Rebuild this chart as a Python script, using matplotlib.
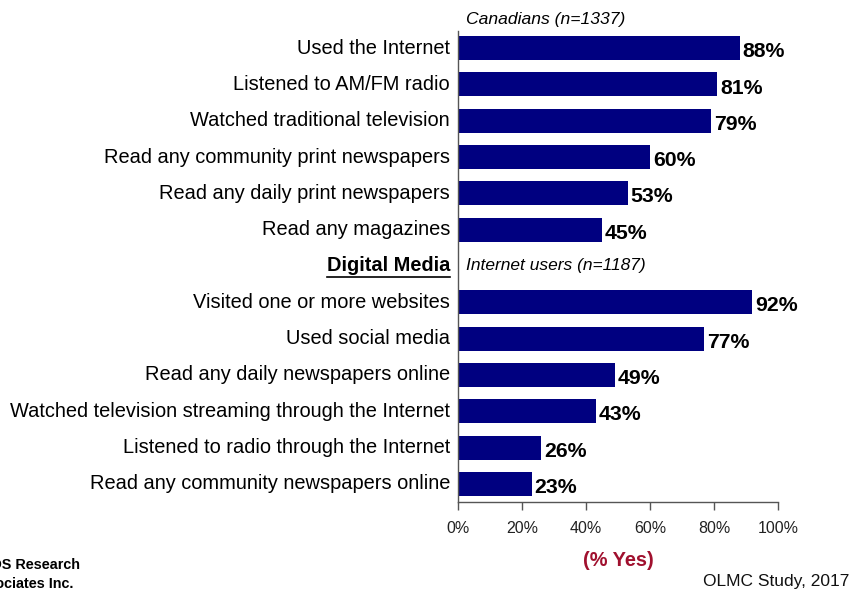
import matplotlib.pyplot as plt
from matplotlib.lines import Line2D

plt.rcParams['font.family'] = ['Liberation Sans', 'DejaVu Sans']

# media use, in row order (None = section header row)
labels = [
    "Used the Internet",
    "Listened to AM/FM radio",
    "Watched traditional television",
    "Read any community print newspapers",
    "Read any daily print newspapers",
    "Read any magazines",
    "Digital Media",
    "Visited one or more websites",
    "Used social media",
    "Read any daily newspapers online",
    "Watched television streaming through the Internet",
    "Listened to radio through the Internet",
    "Read any community newspapers online",
]
values = [88, 81, 79, 60, 53, 45, None, 92, 77, 49, 43, 26, 23]
xticks = [0, 20, 40, 60, 80, 100]
header_row = 6

BAR_COLOR = '#000080'

fig = plt.figure(figsize=(8.51, 5.96), dpi=100)
ax = fig.add_axes([0.5382, 0.1577, 0.376, 0.7903])

rows = list(range(len(labels)))
for r, v in zip(rows, values):
    if v is None:
        continue
    ax.barh(r, v, height=0.66, color=BAR_COLOR)
    ax.text(v + 0.9, r + 0.1, f"{v}%", va='center', ha='left',
            fontsize=15.3, fontweight='bold', color='black')

ax.set_xlim(0, 100)
ax.set_ylim(12.5, -0.47)
ax.set_xticks(xticks)
ax.set_xticklabels([f"{t}%" for t in xticks], fontsize=11.5, color='#222222')
ax.tick_params(axis='x', direction='out', length=6, width=1, color='#555555', pad=8)
ax.set_yticks(rows)
ax.set_yticklabels([])
ax.tick_params(axis='y', length=0)

for s in ['top', 'right']:
    ax.spines[s].set_visible(False)
for s in ['left', 'bottom']:
    ax.spines[s].set_color('#555555')
    ax.spines[s].set_linewidth(1)

# category labels right-aligned against the axis
for r, lab in zip(rows, labels):
    if r == header_row:
        t = ax.text(-0.025, r, lab, transform=ax.get_yaxis_transform(),
                    ha='right', va='center', fontsize=14.4, fontweight='bold')
    else:
        ax.text(-0.025, r, lab, transform=ax.get_yaxis_transform(),
                ha='right', va='center', fontsize=14.4)

# underline the section header
fig.canvas.draw()
bb = t.get_window_extent().transformed(fig.transFigure.inverted())
fig.add_artist(Line2D([bb.x0, bb.x1], [bb.y0 - 0.002, bb.y0 - 0.002],
                      transform=fig.transFigure, color='black', linewidth=1.2))

# base notes
ax.text(0.025, -0.78, "Canadians (n=1337)", transform=ax.get_yaxis_transform(),
        ha='left', va='center', fontsize=12.6, style='italic')
ax.text(0.025, header_row, "Internet users (n=1187)", transform=ax.get_yaxis_transform(),
        ha='left', va='center', fontsize=12.5, style='italic')

fig.text(0.727, 0.06, "(% Yes)", ha='center', va='center', fontsize=14.4,
         fontweight='bold', color='#A0102E')
fig.text(0.998, 0.025, "OLMC Study, 2017", ha='right', va='center', fontsize=12.5,
         color='#111111')
fig.text(0.094, 0.052, "© EKOS Research", ha='right', va='center',
         fontsize=10.4, fontweight='bold')
fig.text(0.086, 0.02, "Associates Inc.", ha='right', va='center',
         fontsize=10.4, fontweight='bold')

fig.savefig('out.png', dpi=100)
